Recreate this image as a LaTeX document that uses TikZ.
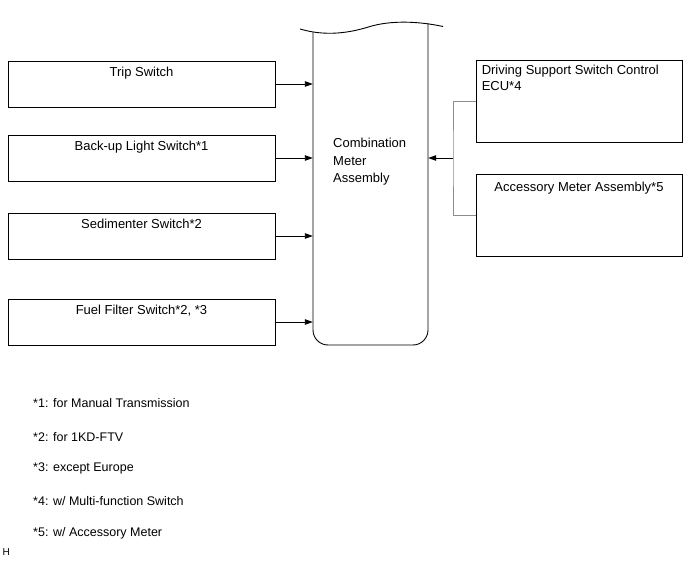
\documentclass[tikz,border=0pt]{standalone}
\usepackage{fontspec}
\setmainfont{Liberation Sans}
\usetikzlibrary{arrows.meta,positioning}
\definecolor{wiregray}{HTML}{8C8C8C}

\begin{document}
\begin{tikzpicture}[
  x=1pt,
  y=-1pt,
  every node/.style={font=\fontsize{13}{16}\selectfont},
  swbox/.style={draw, line width=0.9pt, minimum width=267pt, minimum height=46pt, inner sep=0pt},
  ecubox/.style={draw, line width=0.9pt, minimum width=206pt, minimum height=82pt, inner sep=0pt},
  boxtext/.style={anchor=north, inner sep=0pt},
  flow/.style={-{Triangle[length=8pt,width=5.5pt]}, line width=0.9pt},
  wire/.style={draw=wiregray, line width=0.8pt},
  note/.style={anchor=west, inner sep=0pt, font=\fontsize{12.5}{15}\selectfont}
]
\useasboundingbox (0,0) rectangle (691,564);

% combination meter
\node[minimum width=115pt, minimum height=312pt, inner sep=0pt] (cma) at (370.5,189) {};
\draw[line width=0.9pt] (300,29) .. controls (322,35.5) and (345,34.5) .. (370,26.5)
  .. controls (392,20) and (420,21.5) .. (443,26.5);
\draw[line width=0.9pt] (313,32.3) -- (313,330) arc[start angle=180, end angle=90, radius=15]
  -- (413,345) arc[start angle=90, end angle=0, radius=15] -- (428,23.2);
\node[anchor=west, align=left, inner sep=0pt, font=\fontsize{13}{17.5}\selectfont] (cmatext) at (333,162) {Combination\\Meter\\Assembly};

% switches on the left
\node[swbox] (trip) at (141.5,84) {};
\node[boxtext] at ([yshift=-6pt]trip.north) {Trip Switch};
\node[swbox] (backup) at (141.5,158) {};
\node[boxtext] at ([yshift=-6pt]backup.north) {Back-up Light Switch*1};
\node[swbox] (sedi) at (141.5,236) {};
\node[boxtext] at ([yshift=-6pt]sedi.north) {Sedimenter Switch*2};
\node[swbox] (fuel) at (141.5,322) {};
\node[boxtext] at ([yshift=-6pt]fuel.north) {Fuel Filter Switch*2, *3};

\draw[flow] (trip.east) -- (trip.east -| cma.west);
\draw[flow] (backup.east) -- (backup.east -| cma.west);
\draw[flow] (sedi.east) -- (sedi.east -| cma.west);
\draw[flow] (fuel.east) -- (fuel.east -| cma.west);

% units on the right
\node[ecubox] (dss) at (579,101) {};
\node[anchor=north west, align=left, inner sep=0pt] at ([xshift=6pt,yshift=-5pt]dss.north west) {Driving Support Switch Control\\ECU*4};
\node[ecubox] (acc) at (579,215) {};
\node[boxtext] at ([yshift=-8pt]acc.north) {Accessory Meter Assembly*5};

\coordinate (jn) at (453,158);
\draw[wire] (dss.west) -| (jn) |- (acc.west);
\draw[flow] (jn) -- (jn -| cma.east);

% notes
\node[note] (n1) at (33,403) {*1: for Manual Transmission};
\node[note] (n2) at (33,437) {*2: for 1KD-FTV};
\node[note] (n3) at (33,468) {*3: except Europe};
\node[note] (n4) at (33,501) {*4: w/ Multi-function Switch};
\node[note] (n5) at (33,533) {*5: w/ Accessory Meter};
\node[note, font=\fontsize{10}{12}\selectfont] (hmark) at (2.5,552) {H};
\end{tikzpicture}
\end{document}
